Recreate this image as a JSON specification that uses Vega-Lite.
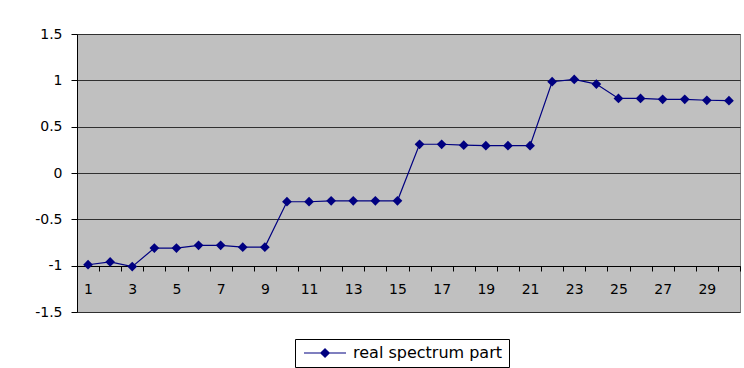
{
  "$schema": "https://vega.github.io/schema/vega-lite/v6.json",
  "width": 663,
  "height": 278,
  "autosize": {"type": "none"},
  "padding": {"left": 77, "top": 34, "right": 4, "bottom": 56},
  "background": "white",
  "config": {
    "view": {"fill": "#C0C0C0", "stroke": "#808080", "strokeWidth": 1},
    "font": "DejaVu Sans",
    "axis": {"labelFont": "DejaVu Sans", "labelColor": "black", "labelFontSize": 14}
  },
  "data": {"values": [
    {"i": 1, "v": -0.99}, {"i": 2, "v": -0.96}, {"i": 3, "v": -1.01}, {"i": 4, "v": -0.81},
    {"i": 5, "v": -0.81}, {"i": 6, "v": -0.78}, {"i": 7, "v": -0.78}, {"i": 8, "v": -0.8},
    {"i": 9, "v": -0.8}, {"i": 10, "v": -0.31}, {"i": 11, "v": -0.31}, {"i": 12, "v": -0.3},
    {"i": 13, "v": -0.3}, {"i": 14, "v": -0.3}, {"i": 15, "v": -0.3}, {"i": 16, "v": 0.31},
    {"i": 17, "v": 0.31}, {"i": 18, "v": 0.3}, {"i": 19, "v": 0.295}, {"i": 20, "v": 0.295},
    {"i": 21, "v": 0.295}, {"i": 22, "v": 0.985}, {"i": 23, "v": 1.01}, {"i": 24, "v": 0.96},
    {"i": 25, "v": 0.805}, {"i": 26, "v": 0.805}, {"i": 27, "v": 0.795}, {"i": 28, "v": 0.795},
    {"i": 29, "v": 0.785}, {"i": 30, "v": 0.78}
  ]},
  "layer": [
    {
      "mark": {"type": "line", "strokeWidth": 1.2},
      "encoding": {
        "x": {
          "field": "i", "type": "quantitative",
          "scale": {"domain": [0.5, 30.5], "nice": false, "zero": false},
          "axis": {
            "orient": "bottom", "offset": -46, "title": null, "grid": false,
            "values": [0.5,1.5,2.5,3.5,4.5,5.5,6.5,7.5,8.5,9.5,10.5,11.5,12.5,13.5,14.5,15.5,16.5,17.5,18.5,19.5,20.5,21.5,22.5,23.5,24.5,25.5,26.5,27.5,28.5,29.5,30.5],
            "labels": false, "ticks": true, "tickSize": 5, "tickColor": "black",
            "domain": true, "domainColor": "black", "domainWidth": 1
          }
        },
        "y": {
          "field": "v", "type": "quantitative",
          "scale": {"domain": [-1.5, 1.5], "nice": false, "zero": false},
          "axis": {
            "title": null, "values": [-1.5, -1, -0.5, 0, 0.5, 1, 1.5],
            "labelExpr": "datum.value + ''",
            "grid": true, "gridColor": "#303030", "gridWidth": 1,
            "tickSize": 6, "tickColor": "black", "labelPadding": 9,
            "domain": true, "domainColor": "black"
          }
        },
        "color": {
          "datum": "real spectrum part", "type": "nominal",
          "scale": {"range": ["#000080"]},
          "legend": {
            "title": null, "orient": "none", "legendX": 218, "legendY": 305,
            "strokeColor": "black", "fillColor": "white", "padding": 6,
            "symbolType": "M-0.714,0L5.29,0M2.29,-0.6L2.89,0L2.29,0.6L1.69,0Z",
            "symbolSize": 196, "symbolStrokeWidth": 1.2,
            "symbolFillColor": "#000080", "symbolStrokeColor": "#000080",
            "labelFontSize": 16, "labelFont": "DejaVu Sans", "labelColor": "black",
            "labelOffset": 36
          }
        }
      }
    },
    {
      "mark": {"type": "point", "shape": "diamond", "filled": true, "size": 95, "opacity": 1},
      "encoding": {
        "x": {
          "field": "i", "type": "quantitative",
          "axis": {
            "orient": "bottom", "offset": -46, "title": null, "grid": false,
            "values": [1,3,5,7,9,11,13,15,17,19,21,23,25,27,29],
            "ticks": false, "tickSize": 0, "domain": false, "labelPadding": 16,
            "labelFlush": false, "labelOverlap": false
          }
        },
        "y": {"field": "v", "type": "quantitative"},
        "color": {"datum": "real spectrum part", "type": "nominal"}
      }
    }
  ],
  "resolve": {"axis": {"x": "independent"}}
}
